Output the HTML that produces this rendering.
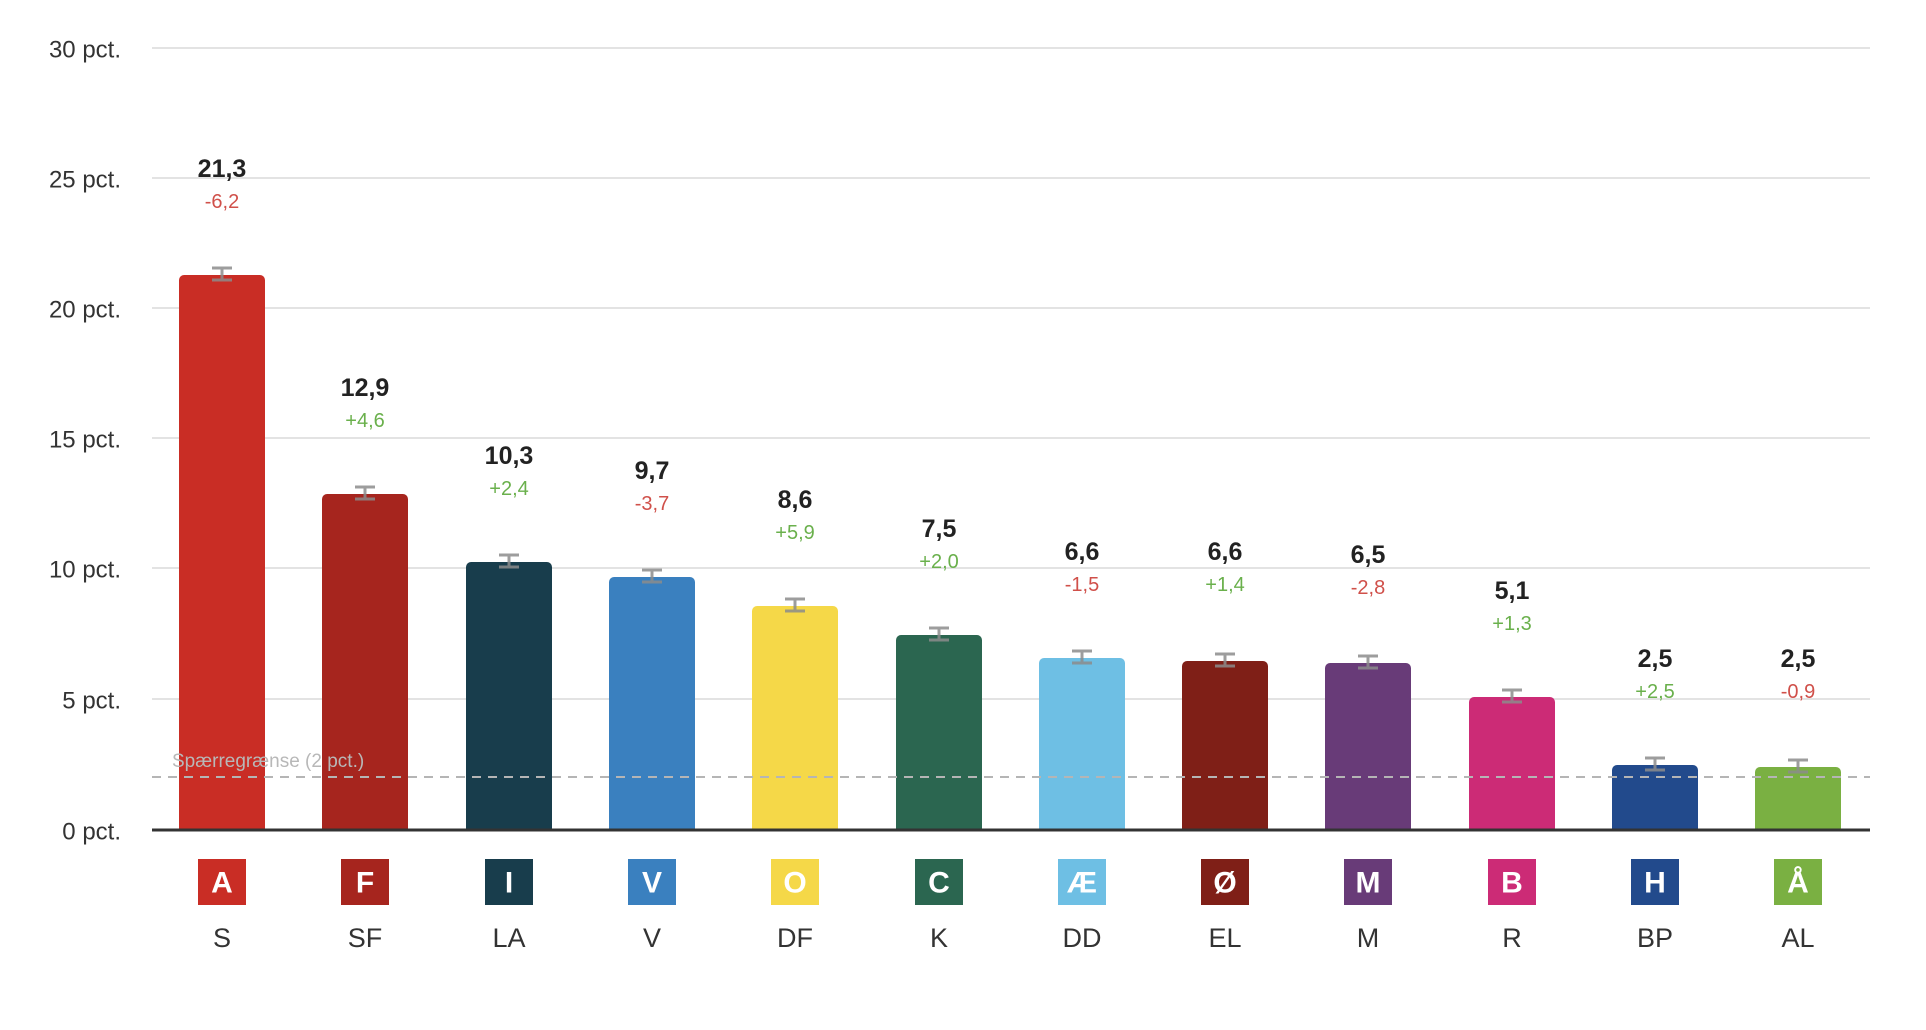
<!DOCTYPE html>
<html><head><meta charset="utf-8"><style>
html,body{margin:0;padding:0;background:#fff;}
svg{display:block;font-family:"Liberation Sans",sans-serif;}
.v{font-size:25px;font-weight:bold;fill:#222;text-anchor:middle;dominant-baseline:central}
.r{font-size:20px;fill:#d0504a;text-anchor:middle;dominant-baseline:central}
.g{font-size:20px;fill:#6ab04c;text-anchor:middle;dominant-baseline:central}
.b{font-size:30px;font-weight:bold;fill:#fff;text-anchor:middle;dominant-baseline:central}
.n{font-size:27px;fill:#333;text-anchor:middle;dominant-baseline:central}
.e{stroke:#8c8c8c;stroke-width:3;opacity:.85}
</style></head><body>
<svg width="1926" height="1030" viewBox="0 0 1926 1030" xmlns="http://www.w3.org/2000/svg">
<g stroke="#e3e3e3" stroke-width="2">
<line x1="152" y1="48" x2="1870" y2="48"/>
<line x1="152" y1="178" x2="1870" y2="178"/>
<line x1="152" y1="308" x2="1870" y2="308"/>
<line x1="152" y1="438" x2="1870" y2="438"/>
<line x1="152" y1="568" x2="1870" y2="568"/>
<line x1="152" y1="699" x2="1870" y2="699"/>
</g>
<g font-size="24" fill="#333" text-anchor="end" dominant-baseline="central">
<text x="121" y="50">30 pct.</text>
<text x="121" y="180">25 pct.</text>
<text x="121" y="310">20 pct.</text>
<text x="121" y="440">15 pct.</text>
<text x="121" y="570">10 pct.</text>
<text x="121" y="701">5 pct.</text>
<text x="121" y="832">0 pct.</text>
</g>

<g transform="translate(222,0)"><rect x="-43" y="275" width="86" height="561" rx="5" fill="#c92d25"/><g class="e"><line x1="-10" y1="268" x2="10" y2="268"/><line x1="-10" y1="280" x2="10" y2="280"/><line x1="0" y1="268" x2="0" y2="280"/></g><text class="v" y="169">21,3</text><text class="r" y="202">-6,2</text><rect x="-24" y="859" width="48" height="46" fill="#c92d25"/><text class="b" y="883">A</text><text class="n" y="938">S</text></g>

<g transform="translate(365,0)"><rect x="-43" y="494" width="86" height="342" rx="5" fill="#a6251e"/><g class="e"><line x1="-10" y1="487" x2="10" y2="487"/><line x1="-10" y1="499" x2="10" y2="499"/><line x1="0" y1="487" x2="0" y2="499"/></g><text class="v" y="388">12,9</text><text class="g" y="421">+4,6</text><rect x="-24" y="859" width="48" height="46" fill="#a6251e"/><text class="b" y="883">F</text><text class="n" y="938">SF</text></g>

<g transform="translate(509,0)"><rect x="-43" y="562" width="86" height="274" rx="5" fill="#183d4c"/><g class="e"><line x1="-10" y1="555" x2="10" y2="555"/><line x1="-10" y1="567" x2="10" y2="567"/><line x1="0" y1="555" x2="0" y2="567"/></g><text class="v" y="456">10,3</text><text class="g" y="489">+2,4</text><rect x="-24" y="859" width="48" height="46" fill="#183d4c"/><text class="b" y="883">I</text><text class="n" y="938">LA</text></g>

<g transform="translate(652,0)"><rect x="-43" y="577" width="86" height="259" rx="5" fill="#3a80bf"/><g class="e"><line x1="-10" y1="570" x2="10" y2="570"/><line x1="-10" y1="582" x2="10" y2="582"/><line x1="0" y1="570" x2="0" y2="582"/></g><text class="v" y="471">9,7</text><text class="r" y="504">-3,7</text><rect x="-24" y="859" width="48" height="46" fill="#3a80bf"/><text class="b" y="883">V</text><text class="n" y="938">V</text></g>

<g transform="translate(795,0)"><rect x="-43" y="606" width="86" height="230" rx="5" fill="#f5d848"/><g class="e"><line x1="-10" y1="599" x2="10" y2="599"/><line x1="-10" y1="611" x2="10" y2="611"/><line x1="0" y1="599" x2="0" y2="611"/></g><text class="v" y="500">8,6</text><text class="g" y="533">+5,9</text><rect x="-24" y="859" width="48" height="46" fill="#f5d848"/><text class="b" y="883">O</text><text class="n" y="938">DF</text></g>

<g transform="translate(939,0)"><rect x="-43" y="635" width="86" height="201" rx="5" fill="#2b6650"/><g class="e"><line x1="-10" y1="628" x2="10" y2="628"/><line x1="-10" y1="640" x2="10" y2="640"/><line x1="0" y1="628" x2="0" y2="640"/></g><text class="v" y="529">7,5</text><text class="g" y="562">+2,0</text><rect x="-24" y="859" width="48" height="46" fill="#2b6650"/><text class="b" y="883">C</text><text class="n" y="938">K</text></g>

<g transform="translate(1082,0)"><rect x="-43" y="658" width="86" height="178" rx="5" fill="#6ebfe4"/><g class="e"><line x1="-10" y1="651" x2="10" y2="651"/><line x1="-10" y1="663" x2="10" y2="663"/><line x1="0" y1="651" x2="0" y2="663"/></g><text class="v" y="552">6,6</text><text class="r" y="585">-1,5</text><rect x="-24" y="859" width="48" height="46" fill="#6ebfe4"/><text class="b" y="883">Æ</text><text class="n" y="938">DD</text></g>

<g transform="translate(1225,0)"><rect x="-43" y="661" width="86" height="175" rx="5" fill="#7f1f17"/><g class="e"><line x1="-10" y1="654" x2="10" y2="654"/><line x1="-10" y1="666" x2="10" y2="666"/><line x1="0" y1="654" x2="0" y2="666"/></g><text class="v" y="552">6,6</text><text class="g" y="585">+1,4</text><rect x="-24" y="859" width="48" height="46" fill="#7f1f17"/><text class="b" y="883">Ø</text><text class="n" y="938">EL</text></g>

<g transform="translate(1368,0)"><rect x="-43" y="663" width="86" height="173" rx="5" fill="#683b78"/><g class="e"><line x1="-10" y1="656" x2="10" y2="656"/><line x1="-10" y1="668" x2="10" y2="668"/><line x1="0" y1="656" x2="0" y2="668"/></g><text class="v" y="555">6,5</text><text class="r" y="588">-2,8</text><rect x="-24" y="859" width="48" height="46" fill="#683b78"/><text class="b" y="883">M</text><text class="n" y="938">M</text></g>

<g transform="translate(1512,0)"><rect x="-43" y="697" width="86" height="139" rx="5" fill="#cc2b76"/><g class="e"><line x1="-10" y1="690" x2="10" y2="690"/><line x1="-10" y1="702" x2="10" y2="702"/><line x1="0" y1="690" x2="0" y2="702"/></g><text class="v" y="591">5,1</text><text class="g" y="624">+1,3</text><rect x="-24" y="859" width="48" height="46" fill="#cc2b76"/><text class="b" y="883">B</text><text class="n" y="938">R</text></g>

<g transform="translate(1655,0)"><rect x="-43" y="765" width="86" height="71" rx="5" fill="#224a8c"/><g class="e"><line x1="-10" y1="758" x2="10" y2="758"/><line x1="-10" y1="770" x2="10" y2="770"/><line x1="0" y1="758" x2="0" y2="770"/></g><text class="v" y="659">2,5</text><text class="g" y="692">+2,5</text><rect x="-24" y="859" width="48" height="46" fill="#224a8c"/><text class="b" y="883">H</text><text class="n" y="938">BP</text></g>

<g transform="translate(1798,0)"><rect x="-43" y="767" width="86" height="69" rx="5" fill="#7ab042"/><g class="e"><line x1="-10" y1="760" x2="10" y2="760"/><line x1="-10" y1="772" x2="10" y2="772"/><line x1="0" y1="760" x2="0" y2="772"/></g><text class="v" y="659">2,5</text><text class="r" y="692">-0,9</text><rect x="-24" y="859" width="48" height="46" fill="#7ab042"/><text class="b" y="883">Å</text><text class="n" y="938">AL</text></g>

<rect x="150" y="831" width="1730" height="12" fill="#fff"/>
<line x1="152" y1="777" x2="1870" y2="777" stroke="#b5b5b5" stroke-width="2" stroke-dasharray="9,7"/>
<text x="172" y="767" font-size="19" fill="#b8b8b8">Spærregrænse (2 pct.)</text>
<line x1="152" y1="830" x2="1870" y2="830" stroke="#333" stroke-width="3"/>
</svg>
</body></html>
